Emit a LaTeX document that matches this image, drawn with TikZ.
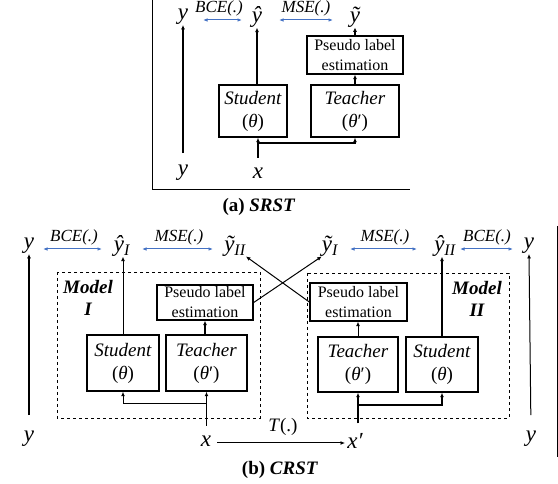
\documentclass[tikz,border=0pt]{standalone}
\usepackage{fontspec}
\setmainfont{Liberation Serif}
\usetikzlibrary{arrows.meta}
\definecolor{arrblue}{RGB}{68,114,196}
\begin{document}
\begin{tikzpicture}[x=1pt,y=-1pt,
  big/.style={inner sep=0pt, font=\fontsize{23}{23}\selectfont\itshape},
  lossl/.style={inner sep=0pt, anchor=south, font=\fontsize{17}{17}\selectfont\itshape},
  loss/.style={{Latex[length=4.5pt,width=3.5pt]}-{Latex[length=4.5pt,width=3.5pt]}, draw=arrblue, line width=1pt},
  net/.style={draw, line width=1.5pt, inner sep=0pt, align=center, font=\fontsize{19}{23}\selectfont},
  pseudo/.style={draw, line width=1.4pt, inner sep=0pt, align=center, font=\fontsize{16}{20}\selectfont},
  thk/.style={-{Latex[length=4.5pt,width=4pt]}, line width=1.6pt},
  thn/.style={-{Latex[length=4.5pt,width=4pt]}, line width=1pt},
  mdl/.style={draw, dashed, line width=0.9pt},
  mlabel/.style={inner sep=0pt, font=\fontsize{19}{22}\selectfont\bfseries\itshape},
  captxt/.style={inner sep=0pt, font=\fontsize{19}{19}\selectfont\bfseries}
]
\useasboundingbox (0,0) rectangle (558,484);

% ---------------- (a) SRST ----------------
\draw[line width=0.9pt] (152,0) -- (152,189) -- (410,189);

\node[big] (yA) at (183,17) {y};
\node[big] (yhatA) at (257,17) {ŷ};
\node[big] (ytilA) at (355,17) {ỹ};
\node[big] (ybA) at (183,173) {y};
\node[big] (xA) at (258,173) {x};

\coordinate (bceA1) at (203,20);
\coordinate (bceA2) at (242,20);
\coordinate (mseA1) at (279,20);
\coordinate (mseA2) at (333,20);
\draw[loss] (bceA1) -- (bceA2);
\draw[loss] (mseA1) -- (mseA2);
\node[lossl] (bceAl) at (219,16) {BCE(.)};
\node[lossl] (mseAl) at (306,16) {MSE(.)};

\node[pseudo, minimum width=96pt, minimum height=38pt] (psA) at (355,55) {Pseudo label\\estimation};
\node[net, minimum width=68pt, minimum height=52pt] (stuA) at (253,111) {\textit{Student}\\(\textit{θ})};
\node[net, minimum width=88pt, minimum height=52pt] (teaA) at (355,111) {\textit{Teacher}\\(\textit{θ}′)};

\draw[thk, shorten <=12pt] (ybA.north) -- (yA.south);
\draw[thk] (stuA.north -| yhatA) -- (yhatA.south);
\draw[thk] (teaA.north) -- (psA.south);
\draw[thk] (psA.north) -- (ytilA.south);
\coordinate (brA) at (258,143);
\draw[thk, shorten <=10pt] (xA.north) -- (xA.north |- stuA.south);
\draw[thk] (brA) -| (teaA.south);

\node[captxt] (capA) at (259,207) {(a) \textit{SRST}};

% ---------------- (b) CRST ----------------
\draw[line width=0.9pt] (557,226) -- (557,457);

\node[big] (yL) at (29,246) {y};
\node[big] (yhatI) at (122,246) {ŷ\textsubscript{\textit{I}}};
\node[big] (ytilII) at (235,246) {ỹ\textsubscript{\textit{II}}};
\node[big] (ytilI) at (330,246) {ỹ\textsubscript{\textit{I}}};
\node[big] (yhatII) at (445,246) {ŷ\textsubscript{\textit{II}}};
\node[big] (yR) at (529,246) {y};

\coordinate (bceL1) at (43,249);
\coordinate (bceL2) at (102,249);
\coordinate (mseL1) at (142,249);
\coordinate (mseL2) at (213,249);
\coordinate (mseR1) at (350,249);
\coordinate (mseR2) at (417,249);
\coordinate (bceR1) at (460,249);
\coordinate (bceR2) at (513,249);
\draw[loss] (bceL1) -- (bceL2);
\draw[loss] (mseL1) -- (mseL2);
\draw[loss] (mseR1) -- (mseR2);
\draw[loss] (bceR1) -- (bceR2);
\node[lossl] (bceLl) at (74,245) {BCE(.)};
\node[lossl] (mseLl) at (179,245) {MSE(.)};
\node[lossl] (mseRl) at (385,245) {MSE(.)};
\node[lossl] (bceRl) at (487,245) {BCE(.)};

% model boxes
\draw[mdl] (57,272) rectangle (260,418);
\draw[mdl] (307,273) rectangle (509,418);
\node[mlabel] (mI1) at (88,287) {Model};
\node[mlabel] (mI2) at (88,309) {I};
\node[mlabel] (mII1) at (477,288) {Model};
\node[mlabel] (mII2) at (477,310) {II};

\node[pseudo, minimum width=96pt, minimum height=35pt] (psI) at (205,302.5) {Pseudo label\\estimation};
\node[net, minimum width=72pt, minimum height=56pt] (stuI) at (123,363) {\textit{Student}\\(\textit{θ})};
\node[net, minimum width=81pt, minimum height=56pt] (teaI) at (206.5,363) {\textit{Teacher}\\(\textit{θ}′)};

\node[pseudo, minimum width=97pt, minimum height=38pt] (psII) at (358.5,302) {Pseudo label\\estimation};
\node[net, minimum width=80pt, minimum height=55pt] (teaII) at (358,364.5) {\textit{Teacher}\\(\textit{θ}′)};
\node[net, minimum width=72pt, minimum height=55pt] (stuII) at (442,364.5) {\textit{Student}\\(\textit{θ})};

\node[big] (ybL) at (29,439) {y};
\node[big] (ybR) at (531,439) {y};
\node[big] (xB) at (206,441) {x};
\node[big] (xpB) at (355,441) {x′};
\node[inner sep=0pt, font=\fontsize{19}{19}\selectfont] (Tl) at (283,427) {\textit{T}(.)};

% arrows (b)
\draw[thk, shorten <=16pt] (ybL.north) -- (yL.south);
\draw[thn, shorten <=16pt] (ybR.north) -- (yR.south);
\draw[thn] (stuI.north) -- (stuI.north |- yhatI.south);
\draw[thk] (teaI.north -| psI) -- (psI.south);
\draw[thk] (stuII.north) -- (stuII.north |- yhatII.south);
\draw[thn] (teaII.north) -- (teaII.north |- psII.south);

\draw[thk, shorten <=10pt] (xB.north -| teaI) -- (teaI.south);
\coordinate (brI) at (206,404);
\draw[thn] (brI) -| (stuI.south);
\draw[thk, shorten <=10pt] (xpB.north -| teaII) -- (teaII.south);
\coordinate (brII) at (358,405);
\draw[thk] (brII) -| (stuII.south);

\draw[thn] (psI.east) -- (ytilI.south west);
\draw[thn] (psII.west) -- (ytilII.south east);

\coordinate (tA) at (217,443);
\coordinate (tB) at (345,443);
\draw[thn] (tA) -- (tB);

\node[captxt] (capB) at (280,470) {(b) \textit{CRST}};
\end{tikzpicture}
\end{document}
